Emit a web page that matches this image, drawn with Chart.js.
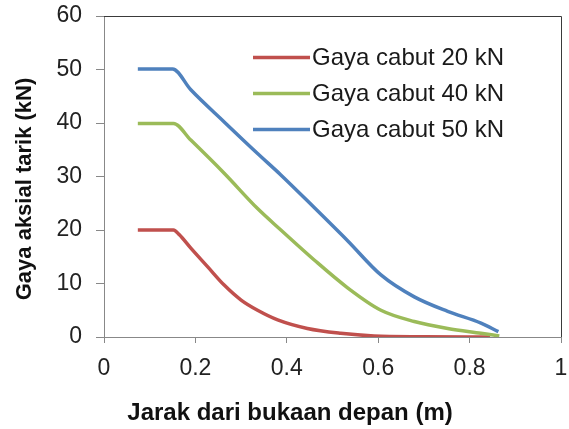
<!DOCTYPE html>
<html>
<head>
<meta charset="utf-8">
<script src="https://cdn.jsdelivr.net/npm/chart.js@4/dist/chart.umd.min.js"></script>
<style>
  html, body { margin: 0; padding: 0; background: #fff; }
  #wadah { width: 569px; height: 429px; position: relative; }
</style>
</head>
<body>
<div id="wadah"><canvas id="grafik"></canvas></div>
<script>
// data
const jarak20 = [0.074, 0.152, 0.165, 0.19, 0.227, 0.263, 0.30, 0.336, 0.38, 0.445, 0.518, 0.591, 0.70, 0.845];
const gaya20  = [20.0, 20.0, 19.1, 16.6, 13.1, 9.7, 6.9, 5.0, 3.2, 1.6, 0.7, 0.2, 0.05, 0.0];

const jarak40 = [0.074, 0.152, 0.19, 0.263, 0.336, 0.387, 0.46, 0.533, 0.606, 0.679, 0.752, 0.825, 0.865];
const gaya40  = [39.9, 39.9, 36.8, 30.6, 24.0, 20.0, 14.4, 9.2, 5.0, 2.9, 1.6, 0.7, 0.2];

const jarak50 = [0.074, 0.150, 0.19, 0.263, 0.336, 0.387, 0.46, 0.533, 0.606, 0.679, 0.752, 0.825, 0.863];
const gaya50  = [50.1, 50.1, 46.2, 40.2, 34.3, 30.3, 24.2, 18.0, 11.6, 7.5, 4.8, 2.6, 1.0];

const labelSeri = ['Gaya cabut 20 kN', 'Gaya cabut 40 kN', 'Gaya cabut 50 kN'];
const warnaSeri = ['#C0504D', '#9BBB59', '#4F81BD'];
const judulX = 'Jarak dari bukaan depan (m)';
const judulY = 'Gaya aksial tarik (kN)';

const FONT = '"Liberation Sans", Arial, sans-serif';

const gabung = (xs, ys) => xs.map((x, i) => ({ x, y: ys[i] }));

const seri = [
  gabung(jarak20, gaya20),
  gabung(jarak40, gaya40),
  gabung(jarak50, gaya50)
];

// bingkai, legenda dan judul sumbu
const hiasan = {
  id: 'hiasan',
  afterDraw(chart) {
    const { ctx, chartArea: a } = chart;
    ctx.save();
    ctx.strokeStyle = '#3a3a3a';
    ctx.lineWidth = 1;
    ctx.beginPath();
    ctx.moveTo(a.left, a.top + 0.5);
    ctx.lineTo(a.right + 0.5, a.top + 0.5);
    ctx.lineTo(a.right + 0.5, a.bottom);
    ctx.stroke();

    ctx.font = '24px ' + FONT;
    ctx.textBaseline = 'middle';
    ctx.textAlign = 'left';
    chart.data.datasets.forEach((ds, i) => {
      const y = 57.5 + i * 36;
      ctx.strokeStyle = ds.borderColor;
      ctx.lineWidth = 3.5;
      ctx.beginPath();
      ctx.moveTo(253, y);
      ctx.lineTo(310, y);
      ctx.stroke();
      ctx.fillStyle = '#1a1a1a';
      ctx.fillText(ds.label, 312, y + 1);
    });

    ctx.fillStyle = '#111';
    ctx.textAlign = 'center';
    ctx.font = 'bold 24px ' + FONT;
    ctx.fillText(judulX, 290, 413);

    ctx.translate(25, 189);
    ctx.rotate(-Math.PI / 2);
    ctx.font = 'bold 22px ' + FONT;
    ctx.fillText(judulY, 0, 0);
    ctx.restore();
  }
};

new Chart(document.getElementById('grafik').getContext('2d'), {
  type: 'line',
  data: {
    datasets: seri.map((d, i) => ({
      label: labelSeri[i],
      data: d,
      borderColor: warnaSeri[i],
      backgroundColor: warnaSeri[i],
      borderWidth: 3.5,
      pointRadius: 0,
      cubicInterpolationMode: 'monotone',
      order: 3 - i
    }))
  },
  options: {
    responsive: true,
    maintainAspectRatio: false,
    animation: false,
    layout: { padding: { top: 16, right: 8, left: 0, bottom: 0 } },
    plugins: {
      legend: { display: false },
      tooltip: { enabled: false }
    },
    scales: {
      x: {
        type: 'linear',
        min: 0,
        max: 1,
        ticks: {
          stepSize: 0.2,
          padding: 12,
          color: '#222',
          font: { family: FONT, size: 23 },
          callback: v => String(Math.round(v * 10) / 10)
        },
        grid: { drawOnChartArea: false, drawTicks: true, tickLength: 6, color: '#888' },
        border: { display: true, color: '#888', width: 1 },
        afterFit: s => { s.height = 92; s.paddingLeft = 0; s.paddingRight = 0; }
      },
      y: {
        min: 0,
        max: 60,
        ticks: { stepSize: 10, padding: 14, color: '#222', font: { family: FONT, size: 23 } },
        grid: { drawOnChartArea: false, drawTicks: true, tickLength: 8, color: '#888' },
        border: { display: true, color: '#888', width: 1 },
        afterFit: s => { s.width = 104; s.paddingTop = 0; s.paddingBottom = 0; }
      }
    }
  },
  plugins: [hiasan]
});
</script>
</body>
</html>
